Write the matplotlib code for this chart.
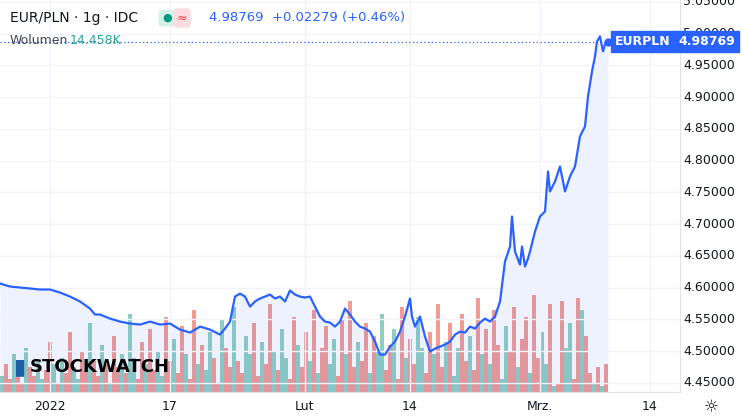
import matplotlib
matplotlib.use("Agg")
from matplotlib import pyplot as plt
import numpy as np

# pozycja (os czasu, 12 jednostek = 1 sesja) i kurs EUR/PLN
pos = [0, 10, 20, 30, 40, 50, 60, 70, 80, 90, 95, 100, 110, 120, 130, 140, 150, 160, 170, 180,
       190, 200, 210, 220, 225, 230, 235, 240, 245, 250, 255, 260, 265, 270, 275, 280, 285, 290,
       295, 300, 305, 310, 315, 320, 325, 330, 335, 340, 345, 350, 355, 360, 365, 370, 375, 380,
       385, 390, 395, 400, 405, 410, 412, 415, 420, 425, 430, 435, 440, 445, 450, 455, 460, 465,
       470, 475, 480, 485, 490, 495, 500, 505, 510, 512, 515, 520, 522, 525, 528, 530, 535, 540,
       545, 548, 550, 555, 560, 565, 570, 575, 580, 585, 588, 592, 595, 597, 600, 603, 605, 608]
price = [4.6066, 4.6019, 4.6003, 4.5988, 4.5972, 4.5972, 4.5924, 4.5861, 4.5783, 4.5672,
         4.5578, 4.5578, 4.5514, 4.5467, 4.5436, 4.5420, 4.5467, 4.5420, 4.5436, 4.5341,
         4.5294, 4.5388, 4.5341, 4.5262, 4.5357, 4.5467, 4.5861, 4.5908, 4.5861, 4.5703,
         4.5783, 4.5830, 4.5861, 4.5893, 4.5830, 4.5861, 4.5783, 4.5956, 4.5893, 4.5861,
         4.5846, 4.5861, 4.5703, 4.5546, 4.5467, 4.5451, 4.5388, 4.5467, 4.5672, 4.5578,
         4.5467, 4.5388, 4.5357, 4.5309, 4.5152, 4.4947, 4.4947, 4.5073, 4.5152, 4.5309,
         4.5546, 4.5830, 4.5546, 4.5388, 4.5546, 4.5231, 4.4994, 4.5042, 4.5073, 4.5105,
         4.5152, 4.5262, 4.5309, 4.5294, 4.5388, 4.5357, 4.5451, 4.5514, 4.5467, 4.5546,
         4.5783, 4.6413, 4.6649, 4.7122, 4.6570, 4.6365, 4.6649, 4.6334, 4.6460, 4.6570,
         4.6885, 4.7122, 4.7201, 4.7831, 4.7516, 4.7673, 4.7910, 4.7516, 4.7752, 4.7910,
         4.8383, 4.8540, 4.9012, 4.9406, 4.9643, 4.9879, 4.9958, 4.9721, 4.9832, 4.9877]
last_price = 4.98769

# wolumen (w tys.), co 4 jednostki czasu, u = wzrost, d = spadek
vol = [5, 9, 4, 12, 6, 3, 14, 8, 5, 10, 4, 7, 16, 9, 3, 11, 6, 19, 8, 4,
       13, 7, 22, 10, 5, 15, 9, 3, 18, 8, 12, 6, 25, 11, 4, 16, 9, 20, 7, 13,
       5, 24, 10, 17, 6, 21, 12, 4, 26, 9, 15, 7, 19, 11, 3, 23, 14, 8, 27, 10,
       6, 18, 12, 22, 5, 16, 9, 28, 13, 7, 20, 11, 4, 24, 15, 8, 19, 10, 26, 6,
       14, 21, 9, 17, 5, 23, 12, 29, 8, 16, 10, 22, 6, 18, 13, 25, 7, 15, 20, 4,
       27, 11, 17, 9, 24, 14, 6, 19, 12, 28, 8, 16, 22, 5, 14, 25, 10, 18, 7, 30,
       12, 20, 9, 26, 15, 4, 21, 13, 27, 8, 17, 24, 6, 31, 11, 19, 9, 28, 2, 3,
       29, 14, 22, 4, 30, 26, 18, 6, 3, 8, 2, 9]
vol_dir = "udduddudduuddududduudduddududduduuddudduudduddu" \
          "dduduudduddudduuddudduduudduddududduudduddudd" \
          "uduudduddudduuddudduduudduddududduudduddudduu" \
          "dudduudduddud"

ticks_pos = [50, 170, 305, 410, 540, 650]
ticks_lab = ["2022", "17", "Lut", "14", "Mrz.", "14"]
y_ticks = np.arange(4.45, 5.0501, 0.05)

BLUE = "#2962ff"
fig = plt.figure(figsize=(7.42, 4.2), dpi=100)
ax = fig.add_axes([0, 28 / 420, 680 / 742, 392 / 420])
ax.set_xlim(0, 680)
ax.set_ylim(4.4358, 5.0531)

# wolumen na osobnej osi
axv = ax.twinx()
axv.set_ylim(0, 125)
vx = np.arange(len(vol)) * 4 + 2
vc = ["#ef8a80" if vol_dir[i % len(vol_dir)] == "d" else "#7cc6b8" for i in range(len(vol))]
axv.bar(vx, vol, width=3.8, color=vc, alpha=0.85, linewidth=0)
axv.set_yticks([])
for s in axv.spines.values():
    s.set_visible(False)
ax.set_zorder(axv.get_zorder() + 1)
ax.patch.set_visible(False)

ax.fill_between(pos, price, 4.4358, color=BLUE, alpha=0.08, linewidth=0)
ax.plot(pos, price, color=BLUE, lw=1.6)
ax.plot(pos[-1], last_price, "o", color=BLUE, ms=5)
ax.axhline(last_price, color=BLUE, ls=(0, (1, 2)), lw=0.9)

ax.set_xticks(ticks_pos)
ax.set_yticks(y_ticks)
ax.grid(True, color="#f0f3fa", lw=1)
ax.tick_params(length=0, labelbottom=False, labelleft=False)
for s in ["top", "left"]:
    ax.spines[s].set_visible(False)
ax.spines["right"].set_color("#e0e3eb")
ax.spines["bottom"].set_color("#e0e3eb")

for p, l in zip(ticks_pos, ticks_lab):
    fig.text(p / 742, 1 - 407 / 420, l, ha="center", va="center", fontsize=9, color="#131722")
for v in y_ticks:
    yy = ax.transData.transform((0, v))[1] / 420
    fig.text(735 / 742, yy, f"{v:.5f}", ha="right", va="center", fontsize=9, color="#131722")

# etykiety ostatniej ceny
ly = ax.transData.transform((0, last_price))[1] / 420
fig.text(735 / 742, ly, f"{last_price:.5f}", ha="right", va="center", fontsize=9, color="white",
         fontweight="bold", zorder=5, bbox=dict(boxstyle="square,pad=0.35", fc=BLUE, ec=BLUE))
fig.text(671 / 742, ly, "EURPLN", ha="right", va="center", fontsize=9, color="white",
         fontweight="bold", zorder=5, bbox=dict(boxstyle="square,pad=0.35", fc=BLUE, ec=BLUE))

# naglowek
fig.text(10 / 742, 1 - 18 / 420, "EUR/PLN · 1g · IDC", fontsize=10, va="center", color="#131722")
fig.text(162 / 742, 1 - 18 / 420, "●", fontsize=8, va="center", color="#089981",
         bbox=dict(boxstyle="round,pad=0.3", fc="#d8f0ea", ec="none"))
fig.text(177 / 742, 1 - 18 / 420, "≈", fontsize=9, va="center", color="#f23645",
         bbox=dict(boxstyle="round,pad=0.25", fc="#fadbe0", ec="none"))
fig.text(209 / 742, 1 - 18 / 420, "4.98769  +0.02279 (+0.46%)", fontsize=9.5, va="center", color=BLUE)
fig.text(10 / 742, 1 - 41 / 420, "Wolumen", fontsize=9, va="center", color="#434651")
fig.text(70 / 742, 1 - 41 / 420, "14.458K", fontsize=9, va="center", color="#26a69a")

fig.text(14 / 742, 1 - 367 / 420, "▮", fontsize=16, va="center", color="#1f5fa8")
fig.text(30 / 742, 1 - 367 / 420, "STOCKWATCH", fontsize=13, va="center", color="black",
         fontweight="bold", family="Liberation Sans Narrow")
fig.text(711 / 742, 1 - 407 / 420, "☼", fontsize=12, ha="center", va="center", color="#131722")

fig.savefig("out.png", dpi=100)
